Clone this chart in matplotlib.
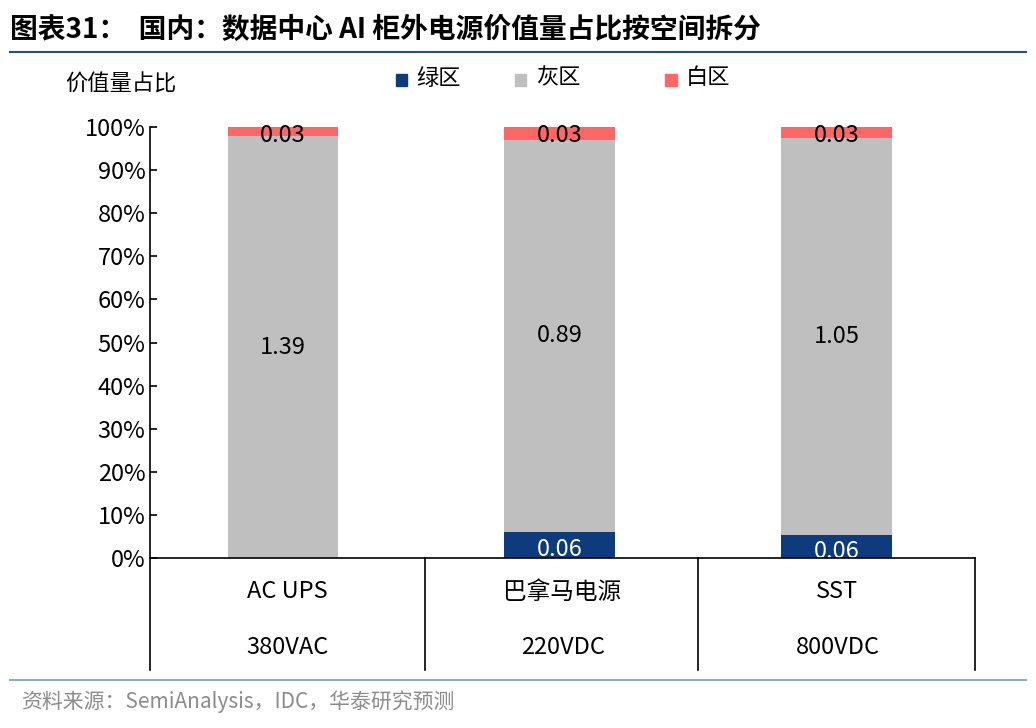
import matplotlib
matplotlib.use("Agg")
import matplotlib.pyplot as plt
from matplotlib.lines import Line2D
import numpy as np

plt.rcParams['font.family'] = ['Noto Sans CJK SC', 'DejaVu Sans']

categories = ["AC UPS", "巴拿马电源", "SST"]
voltages = ["380VAC", "220VDC", "800VDC"]
green = [0.0, 0.06, 0.06]
gray = [1.39, 0.89, 1.05]
white = [0.03, 0.03, 0.03]
series_names = ["绿区", "灰区", "白区"]
colors = ["#0D3B7C", "#BFBFBF", "#FF6666"]

fig = plt.figure(figsize=(10.36, 7.28), dpi=100)
ax = fig.add_axes([0.145, 0.2335, 0.796, 0.592])

vals = np.array([green, gray, white])
pct = vals / vals.sum(axis=0) * 100
x = np.arange(len(categories))
bottom = np.zeros(len(categories))
for i in range(3):
    ax.bar(x, pct[i], 0.4, bottom=bottom, color=colors[i], label=series_names[i])
    for j in range(len(categories)):
        if vals[i, j] <= 0:
            continue
        if i == 2:
            y = 100 - 2
        elif i == 0:
            y = bottom[j] + pct[i, j] / 2 - 1.2
        else:
            y = bottom[j] + pct[i, j] / 2
        c = "white" if i == 0 else "black"
        ax.text(x[j], y, f"{vals[i, j]:.2f}", ha="center", va="center", fontsize=17, color=c)
    bottom += pct[i]

ax.set_xlim(-0.48, 2.5)
ax.set_ylim(0, 100)
ax.set_yticks(np.arange(0, 101, 10))
ax.set_yticklabels([f"{v}%" for v in range(0, 101, 10)], fontsize=17)
ax.set_xticks([])
for s in ["top", "right", "bottom"]:
    ax.spines[s].set_visible(False)
ax.tick_params(axis="y", direction="in", length=5, width=1.2)
ax.spines["left"].set_linewidth(1.2)

# category table below axes
tb = 670 / 728
y0 = 1 - 558 / 728
for xp in [150, 425, 698, 975]:
    fig.add_artist(Line2D([xp / 1036] * 2, [1 - tb, y0], color="black", lw=1.2))
fig.add_artist(Line2D([150 / 1036, 975 / 1036], [y0, y0], color="black", lw=1.2))
for j, (c, v) in enumerate(zip(categories, voltages)):
    xc = (0.145 + 0.796 * (j + 0.5) / 3)
    fig.text(xc, 1 - 592 / 728, c, ha="center", va="center", fontsize=17)
    fig.text(xc, 1 - 648 / 728, v, ha="center", va="center", fontsize=17)

# legend
for k, (name, col, lx) in enumerate(zip(series_names, colors, [0.382, 0.497, 0.642])):
    fig.patches.append(plt.Rectangle((lx, 1 - 86 / 728), 0.011, 0.016,
                                     transform=fig.transFigure, color=col))
    fig.text(lx + 0.02, 1 - 78 / 728, name, ha="left", va="center", fontsize=16)

fig.text(0.063, 1 - 84 / 728, "价值量占比", ha="left", va="center", fontsize=16)
fig.text(0.01, 1 - 30 / 728, "图表31：  国内：数据中心 AI 柜外电源价值量占比按空间拆分",
         ha="left", va="center", fontsize=20, fontweight="bold")
fig.add_artist(Line2D([0.01, 0.99], [1 - 52 / 728] * 2, color="#1F4E8C", lw=1.5))
fig.add_artist(Line2D([0.01, 0.99], [1 - 680 / 728] * 2, color="#8FAAD0", lw=1.5))
fig.text(0.02, 1 - 702 / 728, "资料来源：SemiAnalysis，IDC，华泰研究预测",
         ha="left", va="center", fontsize=15, color="#8C8C8C")

fig.savefig("out.png", dpi=100)
